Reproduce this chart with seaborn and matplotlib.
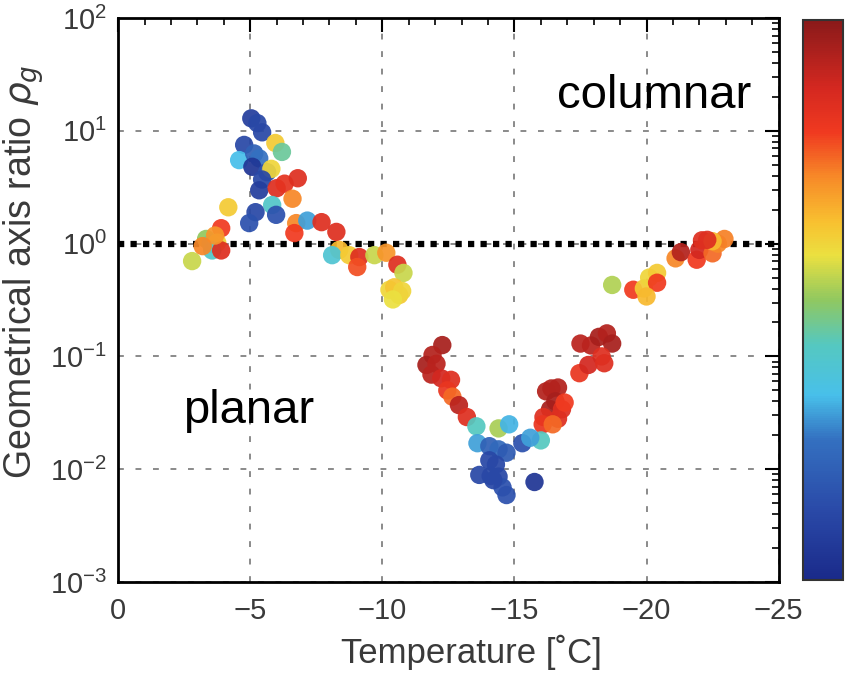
import numpy as np
import pandas as pd
import matplotlib
matplotlib.use("Agg")
import matplotlib.pyplot as plt
import matplotlib.ticker as mticker
from matplotlib.colors import LinearSegmentedColormap
import seaborn as sns

# ---- data ----
temperature = [
    -2.8, -4.17, -3.9, -3.33, -3.5, -3.75, -3.56, -3.9, -3.67, -3.2,
    -5.04, -5.27, -5.45, -4.77, -5.95, -6.2, -4.58, -5.15, -5.34, -5.08,
    -5.64, -5.8, -5.45, -5.34, -6.0, -6.3, -6.8, -6.6, -5.83, -5.98, -5.2, -4.96,
    -6.74, -7.16, -7.7, -6.67, -8.26, -8.37, -8.1, -8.75, -9.13, -9.05,
    -9.7, -10.15, -10.57, -10.8, -10.27, -10.64, -10.45, -10.75, -10.4,
    -12.27, -11.9, -11.67, -12.05, -11.86, -12.23, -12.6, -12.46, -12.65, -12.9,
    -13.2, -13.56, -14.4, -14.8, -13.6, -14.05, -14.4, -14.7, -15.3, -14.05,
    -14.3, -13.67, -14.1, -14.4, -14.55, -14.7, -14.2, -15.76,
    -16.4, -16.65, -16.2, -16.55, -16.35, -16.8, -16.1, -16.65, -16.9, -16.07,
    -16.45, -16.0, -15.6,
    -17.46, -17.5, -17.9, -18.2, -18.5, -18.7, -18.3, -17.8, -18.4,
    -18.7, -19.5, -19.9, -20.1, -20.4, -20.4, -20.0,
    -21.1, -21.3, -21.9, -22.0, -22.1, -22.5, -22.7, -22.95, -22.5, -22.3,
]
axis_ratio = [
    0.70, 2.1, 1.37, 1.1, 1.0, 1.02, 0.87, 0.87, 1.18, 0.95,
    12.9, 11.7, 9.7, 7.5, 7.8, 6.5, 5.5, 6.3, 5.7, 4.8,
    4.3, 4.6, 3.7, 2.97, 3.1, 3.4, 3.8, 2.5, 2.2, 1.8, 1.9, 1.52,
    1.52, 1.6, 1.55, 1.24, 1.27, 0.88, 0.79, 0.79, 0.76, 0.62,
    0.79, 0.83, 0.65, 0.55, 0.39, 0.35, 0.41, 0.38, 0.32,
    0.126, 0.103, 0.084, 0.086, 0.069, 0.064, 0.062, 0.05, 0.044, 0.037,
    0.029, 0.024, 0.023, 0.025, 0.017, 0.016, 0.015, 0.014, 0.017, 0.012,
    0.011, 0.0089, 0.0087, 0.0086, 0.0069, 0.0059, 0.0080, 0.0077,
    0.052, 0.053, 0.049, 0.040, 0.034, 0.034, 0.029, 0.028, 0.039, 0.025,
    0.025, 0.018, 0.019,
    0.071, 0.13, 0.125, 0.149, 0.16, 0.13, 0.10, 0.084, 0.087,
    0.43, 0.39, 0.40, 0.50, 0.55, 0.45, 0.34,
    0.74, 0.84, 0.72, 0.88, 1.07, 0.82, 1.0, 1.1, 1.05, 1.08,
]
color_value = [
    0.55, 0.62, 0.80, 0.50, 0.45, 0.60, 0.40, 0.85, 0.70, 0.72,
    0.08, 0.12, 0.12, 0.12, 0.62, 0.45, 0.33, 0.20, 0.25, 0.05,
    0.15, 0.60, 0.12, 0.08, 0.85, 0.83, 0.85, 0.72, 0.40, 0.15, 0.12, 0.15,
    0.72, 0.30, 0.85, 0.80, 0.85, 0.65, 0.38, 0.62, 0.85, 0.78,
    0.55, 0.70, 0.85, 0.55, 0.60, 0.62, 0.63, 0.60, 0.58,
    0.95, 0.93, 0.95, 0.92, 0.92, 0.88, 0.85, 0.82, 0.75, 0.92,
    0.85, 0.42, 0.52, 0.32, 0.30, 0.20, 0.23, 0.18, 0.15, 0.12,
    0.12, 0.12, 0.12, 0.12, 0.15, 0.15, 0.12, 0.05,
    0.93, 0.93, 0.93, 0.95, 0.95, 0.85, 0.85, 0.85, 0.80, 0.82,
    0.75, 0.42, 0.30,
    0.82, 0.92, 0.92, 0.95, 0.93, 0.95, 0.85, 0.88, 0.85,
    0.53, 0.80, 0.62, 0.60, 0.62, 0.80, 0.65,
    0.72, 0.93, 0.80, 0.88, 0.85, 0.75, 0.72, 0.73, 0.65, 0.85,
]
x_ticks = [0, -5, -10, -15, -20, -25]
y_ticks = [1e-3, 1e-2, 1e-1, 1e0, 1e1, 1e2]

# soft jet-like colour scale sampled from the colour bar
cmap_stops = [0.0, 0.125, 0.25, 0.33, 0.42, 0.5, 0.58, 0.64, 0.72, 0.8, 0.88, 1.0]
cmap_colors = ["#1a2a8a", "#2a4aa8", "#3470c0", "#48c0ea", "#55c8c0", "#90c860",
               "#ebe040", "#f8c030", "#f78a28", "#f03a20", "#d42820", "#8a1a1a"]
soft_jet = LinearSegmentedColormap.from_list("soft_jet",
                                             list(zip(cmap_stops, cmap_colors)))

df = pd.DataFrame({"T": temperature, "rho": axis_ratio, "c": color_value})

sns.set_theme(style="white")
plt.rcParams["font.family"] = ["Liberation Sans", "DejaVu Sans"]
plt.rcParams["mathtext.default"] = "regular"

fig = plt.figure(figsize=(8.5, 6.78), dpi=100)
ax = fig.add_axes([0.139, 0.1416, 0.777, 0.8318])

text_col = "#3a3a3a"

ax.axhline(1.0, color="black", lw=4.5, ls=(0, (1, 1)), zorder=1.5)

sns.scatterplot(data=df, x="T", y="rho", hue="c", palette=soft_jet,
                hue_norm=(0, 1), s=175, linewidth=0, alpha=0.93,
                legend=False, ax=ax, zorder=3)

ax.set_yscale("log")
ax.set_xlim(0, -25)
ax.set_ylim(1e-3, 1e2)
ax.set_xticks(x_ticks)
ax.set_yticks(y_ticks)
ax.xaxis.set_minor_locator(mticker.MultipleLocator(1))
ax.yaxis.set_minor_locator(mticker.LogLocator(base=10, subs=np.arange(2, 10)))
ax.yaxis.set_minor_formatter(mticker.NullFormatter())
ax.xaxis.set_major_formatter(mticker.FuncFormatter(
    lambda v, p: "0" if v == 0 else "\u2212%d" % abs(v)))

ax.grid(True, which="major", color="#8a8a8a", ls=(0, (3, 6)), lw=1.4)
ax.tick_params(which="both", direction="in", top=True, right=True,
               color="black", labelcolor=text_col, labelsize=21)
ax.tick_params(axis="x", which="major", length=10, width=1.5, pad=11)
ax.tick_params(axis="y", which="major", length=10, width=1.5, pad=8)
ax.tick_params(which="minor", length=5, width=1.2)
for sp in ax.spines.values():
    sp.set_color("black")
    sp.set_linewidth(2)

ax.set_xlabel("Temperature [\u02daC]", fontsize=25, color=text_col)
ax.xaxis.set_label_coords(0.535, -0.093)
ax.set_ylabel(r"Geometrical axis ratio $\mathit{\rho}_{\mathit{g}}$",
              fontsize=27, color=text_col)
ax.yaxis.set_label_coords(-0.11, 0.55)

ax.text(-16.6, 20.5, "columnar", fontsize=34, color="black",
        ha="left", va="center", zorder=5)
ax.text(-2.45, 0.033, "planar", fontsize=34, color="black",
        ha="left", va="center", zorder=5)

# colorbar
cax = fig.add_axes([0.945, 0.1445, 0.047, 0.826])
sm = plt.cm.ScalarMappable(cmap=soft_jet, norm=plt.Normalize(0, 1))
cb = fig.colorbar(sm, cax=cax, ticks=np.arange(1, 8) / 8)
cb.ax.set_yticklabels([])
cb.ax.tick_params(direction="in", length=5, width=1.2, left=True, right=True,
                  color="#222222")
cb.outline.set_edgecolor("#333333")
cb.outline.set_linewidth(1.5)

fig.savefig("out.png", dpi=100)
